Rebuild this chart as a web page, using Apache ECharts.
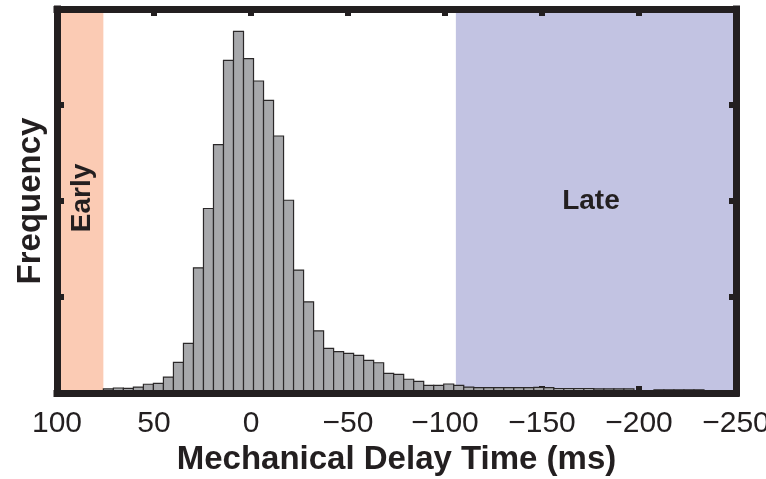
<!DOCTYPE html>
<html><head><meta charset="utf-8">
<script src="https://cdn.jsdelivr.net/npm/echarts@6/dist/echarts.min.js"></script>
<style>html,body{margin:0;padding:0;background:#fff}#c{width:766px;height:479px}</style>
</head><body><div id="c"></div>
<script>
// ---- data ----
const binStart = 76.1;    // left edge (ms) of the first histogram bin
const binWidth = 5.16;    // bin width (ms)
const counts = [
  4.2, 5.2, 4.9, 6.2, 9.1, 10.1, 16.6, 31.9, 51.7, 130.4,
  192.2, 258.8, 346.5, 376.7, 348.3, 325.0, 304.9, 267.7, 200.8, 128.0,
  95.0, 64.8, 46.5, 43.0, 41.3, 39.2, 34.0, 31.5, 20.5, 19.5,
  14.3, 12.2, 8.0, 8.0, 9.4, 8.0, 6.2, 5.5, 5.5, 5.5,
  5.5, 5.5, 5.5, 5.8, 5.5, 4.7, 4.7, 4.7, 4.7, 4.2,
  4.2, 4.2, 4.2, 2.6, 2.6, 3.3, 3.3, 3.3, 3.3, 3.3,
  0, 0, 2.6
];
const xTicks = [100, 50, 0, -50, -100, -150, -200, -250];
const earlyRange = [100, 76.1];
const lateRange = [-105.6, -250];
const regionLabels = ['Early', 'Late'];
const xTitle = 'Mechanical Delay Time (ms)';
const yTitle = 'Frequency';

// ---- chart ----
const ink = '#231f20';
const font = 'Liberation Sans, Arial, Helvetica, sans-serif';
const bins = counts.map((c, i) => [binStart - i * binWidth, binStart - (i + 1) * binWidth, c]);
const xMin = Math.min(...xTicks), xMax = Math.max(...xTicks), xStep = xTicks[0] - xTicks[1];
const fmt = v => (v < 0 ? '\u2212' + Math.abs(v) : String(v));
const frameLine = {show: true, onZero: false, lineStyle: {color: ink, width: 7, cap: 'square'}};
const innerTick = {show: true, inside: true, length: 7, lineStyle: {color: ink, width: 6}};

const chart = echarts.init(document.getElementById('c'), null, {renderer: 'canvas'});
chart.setOption({
  animation: false,
  backgroundColor: '#fff',
  grid: {left: 57, right: 30, top: 9, bottom: 86, containLabel: false, outerBoundsMode: 'none'},
  xAxis: [
    {type: 'value', position: 'bottom', inverse: true, min: xMin, max: xMax, interval: xStep, z: 10,
     axisLine: frameLine, axisTick: {show: false}, splitLine: {show: false},
     axisLabel: {fontSize: 30, color: ink, margin: 16, fontFamily: font, formatter: fmt},
     name: xTitle, nameLocation: 'middle', nameGap: 49,
     nameTextStyle: {fontSize: 33, fontWeight: 'bold', color: ink, fontFamily: font}},
    {type: 'value', position: 'bottom', inverse: true, min: xMin, max: xMax, interval: xStep, z: 2,
     axisLine: {show: false, onZero: false}, axisTick: innerTick, axisLabel: {show: false}, splitLine: {show: false}},
    {type: 'value', position: 'top', inverse: true, min: xMin, max: xMax, interval: xStep, z: 10,
     axisLine: frameLine, axisTick: innerTick, axisLabel: {show: false}, splitLine: {show: false}}
  ],
  yAxis: [
    {type: 'value', position: 'left', min: 0, max: 400, interval: 100, z: 10,
     axisLine: frameLine, axisTick: innerTick, axisLabel: {show: false}, splitLine: {show: false},
     name: yTitle, nameLocation: 'middle', nameGap: 10,
     nameTextStyle: {fontSize: 33, fontWeight: 'bold', color: ink, fontFamily: font}},
    {type: 'value', position: 'right', min: 0, max: 400, interval: 100, z: 10,
     axisLine: frameLine, axisTick: innerTick, axisLabel: {show: false}, splitLine: {show: false}}
  ],
  series: [
    {type: 'line', z: 1, xAxisIndex: 0, yAxisIndex: 0, data: [[0, 0]], symbol: 'none',
     lineStyle: {opacity: 0}, silent: true,
     markArea: {silent: true, data: [
       [{xAxis: earlyRange[0], itemStyle: {color: '#fbcbb4'},
         label: {show: true, position: 'inside', rotate: 90, offset: [3, 2], formatter: regionLabels[0],
                 fontSize: 28, fontWeight: 'bold', color: ink, fontFamily: font}},
        {xAxis: earlyRange[1]}],
       [{xAxis: lateRange[0], itemStyle: {color: '#c2c3e2'},
         label: {show: true, position: 'inside', offset: [-5, 0], formatter: regionLabels[1],
                 fontSize: 28, fontWeight: 'bold', color: ink, fontFamily: font}},
        {xAxis: lateRange[1]}]
     ]}},
    {type: 'custom', z: 3, xAxisIndex: 0, yAxisIndex: 0, data: bins,
     encode: {x: [0, 1], y: 2},
     renderItem: function (params, api) {
       const a = api.coord([api.value(0), 0]);
       const b = api.coord([api.value(1), api.value(2)]);
       return {type: 'rect',
         shape: {x: Math.min(a[0], b[0]), y: b[1], width: Math.abs(b[0] - a[0]), height: a[1] - b[1]},
         style: {fill: '#a7a8ab', stroke: '#2b2829', lineWidth: 1.2}};
     }}
  ]
});
</script></body></html>
